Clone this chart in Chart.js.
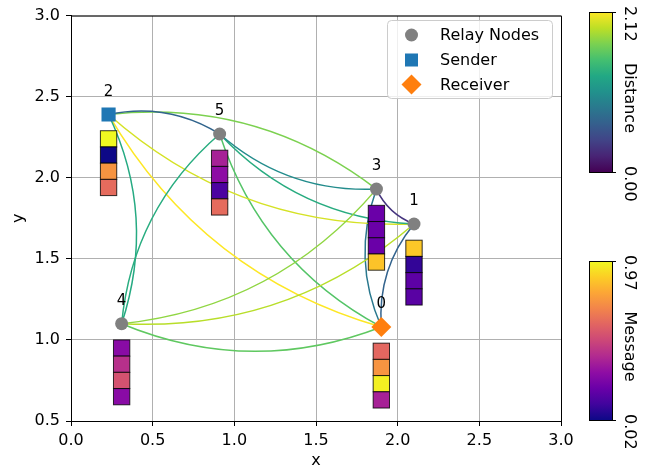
<!DOCTYPE html>
<html>
<head>
<meta charset="utf-8">
<script src="https://cdn.jsdelivr.net/npm/chart.js@4.4.1/dist/chart.umd.min.js"></script>
<style>
  html, body { margin: 0; padding: 0; background: #fff; }
  #wrap { width: 664px; height: 470px; }
</style>
</head>
<body>
<div id="wrap"><canvas id="chart" width="664" height="470"></canvas></div>
<script>
// node positions (index = node id)
const nodeIds = [0, 1, 2, 3, 4, 5];
const nodeX = [1.90, 2.10, 0.23, 1.87, 0.31, 0.91];
const nodeY = [1.08, 1.715, 2.39, 1.93, 1.10, 2.27];
const senderId = 2;
const receiverId = 0;

// edges (u < v), complete graph
const edgeFrom = [0, 0, 0, 0, 0, 1, 1, 1, 1, 2, 2, 2, 3, 3, 4];
const edgeTo   = [1, 2, 3, 4, 5, 2, 3, 4, 5, 3, 4, 5, 4, 5, 5];

// message vector shown under each node (top to bottom)
const messages = [
  [0.60, 0.73, 0.95, 0.37],
  [0.86, 0.09, 0.18, 0.17],
  [0.97, 0.02, 0.73, 0.61],
  [0.21, 0.21, 0.21, 0.85],
  [0.29, 0.42, 0.53, 0.29],
  [0.37, 0.30, 0.14, 0.61]
];

const distanceRange = [0.00, 2.12];
const messageRange = [0.02, 0.97];
const legendLabels = ['Relay Nodes', 'Sender', 'Receiver'];

const viridis = ['#440154', '#482475', '#414487', '#355f8d', '#2a788e', '#21918c',
                 '#22a884', '#44bf70', '#7ad151', '#bddf26', '#fde725'];
const plasma = ['#0d0887', '#41049d', '#6a00a8', '#8f0da4', '#b12a90', '#cc4778',
                '#e16462', '#f2844b', '#fca636', '#fcce25', '#f0f921'];

function hexRgb(h) {
  return [parseInt(h.slice(1, 3), 16), parseInt(h.slice(3, 5), 16), parseInt(h.slice(5, 7), 16)];
}

function cmap(stops, t) {
  t = Math.min(1, Math.max(0, t));
  const n = stops.length - 1;
  const i = Math.min(n - 1, Math.floor(t * n));
  const f = t * n - i;
  const a = hexRgb(stops[i]), b = hexRgb(stops[i + 1]);
  const c = a.map((v, k) => Math.round(v + (b[k] - v) * f));
  return 'rgb(' + c.join(',') + ')';
}

const FONT = "'DejaVu Sans', sans-serif";
Chart.defaults.font.family = FONT;
Chart.defaults.font.size = 16;
Chart.defaults.color = '#000';

const relayIds = nodeIds.filter(i => i !== senderId && i !== receiverId);

const networkPlugin = {
  id: 'network',
  beforeDatasetsDraw(chart) {
    const { ctx, chartArea, scales: { x, y } } = chart;
    ctx.save();
    ctx.beginPath();
    ctx.rect(chartArea.left, chartArea.top, chartArea.width, chartArea.height);
    ctx.clip();

    // curved edges, coloured by distance
    ctx.lineWidth = 1.5;
    for (let e = 0; e < edgeFrom.length; e++) {
      const u = edgeFrom[e], v = edgeTo[e];
      const x1 = x.getPixelForValue(nodeX[u]), y1 = y.getPixelForValue(nodeY[u]);
      const x2 = x.getPixelForValue(nodeX[v]), y2 = y.getPixelForValue(nodeY[v]);
      const dx = x2 - x1, dy = y2 - y1;
      const cx = (x1 + x2) / 2 + 0.2 * dy;
      const cy = (y1 + y2) / 2 - 0.2 * dx;
      const dist = Math.hypot(nodeX[v] - nodeX[u], nodeY[v] - nodeY[u]);
      ctx.strokeStyle = cmap(viridis, (dist - distanceRange[0]) / (distanceRange[1] - distanceRange[0]));
      ctx.beginPath();
      ctx.moveTo(x1, y1);
      ctx.quadraticCurveTo(cx, cy, x2, y2);
      ctx.stroke();
    }

    // message squares under each node
    ctx.lineWidth = 1;
    ctx.strokeStyle = 'rgba(0,0,0,0.8)';
    nodeIds.forEach(i => {
      const left = x.getPixelForValue(nodeX[i] - 0.05);
      const right = x.getPixelForValue(nodeX[i] + 0.05);
      messages[i].forEach((m, k) => {
        const top = y.getPixelForValue(nodeY[i] - 0.1 - 0.1 * k);
        const bot = y.getPixelForValue(nodeY[i] - 0.2 - 0.1 * k);
        ctx.fillStyle = cmap(plasma, (m - messageRange[0]) / (messageRange[1] - messageRange[0]));
        ctx.fillRect(left, top, right - left, bot - top);
        ctx.strokeRect(left, top, right - left, bot - top);
      });
    });
    ctx.restore();
  },
  afterDatasetsDraw(chart) {
    const { ctx, scales: { x, y } } = chart;
    ctx.save();
    ctx.font = '15px ' + FONT;
    ctx.fillStyle = '#000';
    ctx.textAlign = 'center';
    ctx.textBaseline = 'alphabetic';
    nodeIds.forEach(i => {
      ctx.fillText(String(i), x.getPixelForValue(nodeX[i]), y.getPixelForValue(nodeY[i] + 0.15) + 5.5);
    });
    ctx.restore();
  },
  afterDraw(chart) {
    const { ctx, chartArea } = chart;
    ctx.save();
    // top / right spines
    ctx.strokeStyle = '#000';
    ctx.lineWidth = 1;
    ctx.beginPath();
    ctx.moveTo(chartArea.left, chartArea.top + 0.5);
    ctx.lineTo(chartArea.right + 0.5, chartArea.top + 0.5);
    ctx.lineTo(chartArea.right + 0.5, chartArea.bottom);
    ctx.stroke();

    // legend
    const lx = 387, ly = 20, lw = 165, lh = 78;
    ctx.beginPath();
    ctx.roundRect(lx + 0.5, ly + 0.5, lw, lh, 4);
    ctx.fillStyle = 'rgba(255,255,255,0.8)';
    ctx.fill();
    ctx.strokeStyle = '#cccccc';
    ctx.stroke();
    const rows = [40, 65, 89.5];
    const mx = 411.5;
    ctx.fillStyle = '#808080';
    ctx.beginPath();
    ctx.arc(mx, rows[0] - 5, 6.5, 0, Math.PI * 2);
    ctx.fill();
    ctx.fillStyle = '#1f77b4';
    ctx.fillRect(mx - 6.5, rows[1] - 11.5, 13, 13);
    ctx.fillStyle = '#ff7f0e';
    ctx.beginPath();
    ctx.moveTo(mx - 10, rows[2] - 5);
    ctx.lineTo(mx, rows[2] - 15);
    ctx.lineTo(mx + 10, rows[2] - 5);
    ctx.lineTo(mx, rows[2] + 5);
    ctx.closePath();
    ctx.fill();
    ctx.fillStyle = '#000';
    ctx.font = '16px ' + FONT;
    ctx.textAlign = 'left';
    ctx.textBaseline = 'alphabetic';
    legendLabels.forEach((t, k) => ctx.fillText(t, 440, rows[k]));

    // colorbars
    const bars = [
      { top: 12, bottom: 172, stops: viridis, range: distanceRange, label: 'Distance' },
      { top: 261, bottom: 420, stops: plasma, range: messageRange, label: 'Message' }
    ];
    const bl = 589, br = 612;
    bars.forEach(b => {
      const g = ctx.createLinearGradient(0, b.bottom, 0, b.top);
      b.stops.forEach((c, k) => g.addColorStop(k / (b.stops.length - 1), c));
      ctx.fillStyle = g;
      ctx.fillRect(bl, b.top, br - bl, b.bottom - b.top);
      ctx.strokeStyle = '#000';
      ctx.lineWidth = 1;
      ctx.strokeRect(bl + 0.5, b.top + 0.5, br - bl, b.bottom - b.top);
      ctx.beginPath();
      ctx.moveTo(br, b.top + 0.5); ctx.lineTo(br + 4, b.top + 0.5);
      ctx.moveTo(br, b.bottom + 0.5); ctx.lineTo(br + 4, b.bottom + 0.5);
      ctx.stroke();

      ctx.fillStyle = '#000';
      ctx.font = '16px ' + FONT;
      ctx.textBaseline = 'alphabetic';
      const texts = [
        [b.range[1].toFixed(2), b.top - 6, 'left'],
        [b.label, (b.top + b.bottom) / 2 + 6, 'center'],
        [b.range[0].toFixed(2), b.bottom - 6, 'left']
      ];
      texts.forEach(([t, ty, al]) => {
        ctx.save();
        ctx.translate(625, ty);
        ctx.rotate(Math.PI / 2);
        ctx.textAlign = al;
        ctx.fillText(t, 0, 0);
        ctx.restore();
      });
    });
    ctx.restore();
  }
};

new Chart(document.getElementById('chart'), {
  type: 'scatter',
  data: {
    datasets: [
      {
        label: legendLabels[0],
        data: relayIds.map(i => ({ x: nodeX[i], y: nodeY[i] })),
        pointStyle: 'circle',
        pointRadius: 6.5,
        backgroundColor: '#808080',
        borderWidth: 0
      },
      {
        label: legendLabels[1],
        data: [{ x: nodeX[senderId], y: nodeY[senderId] }],
        pointStyle: 'rect',
        pointRadius: 10,
        backgroundColor: '#1f77b4',
        borderWidth: 0
      },
      {
        label: legendLabels[2],
        data: [{ x: nodeX[receiverId], y: nodeY[receiverId] }],
        pointStyle: 'rectRot',
        pointRadius: 10,
        backgroundColor: '#ff7f0e',
        borderWidth: 0
      }
    ]
  },
  options: {
    responsive: false,
    animation: false,
    events: [],
    layout: { padding: { top: 13, right: 103, left: 0, bottom: 0 } },
    plugins: { legend: { display: false }, tooltip: { enabled: false } },
    scales: {
      x: {
        min: 0, max: 3,
        afterFit: s => { s.height = 49; },
        ticks: { stepSize: 0.5, padding: 5, callback: v => v.toFixed(1), font: { size: 16 } },
        grid: { color: '#b0b0b0', tickColor: '#000', tickLength: 5, lineWidth: 1 },
        border: { color: '#000', width: 1 },
        title: { display: true, text: 'x', font: { size: 16 }, padding: { top: 0, bottom: 0 } }
      },
      y: {
        min: 0.5, max: 3,
        afterFit: s => { s.width = 71; },
        ticks: { stepSize: 0.5, padding: 6, callback: v => v.toFixed(1), font: { size: 16 } },
        grid: { color: '#b0b0b0', tickColor: '#000', tickLength: 5, lineWidth: 1 },
        border: { color: '#000', width: 1 },
        title: { display: true, text: 'y', font: { size: 16 }, padding: { top: 9, bottom: 0 } }
      }
    }
  },
  plugins: [networkPlugin]
});
</script>
</body>
</html>
